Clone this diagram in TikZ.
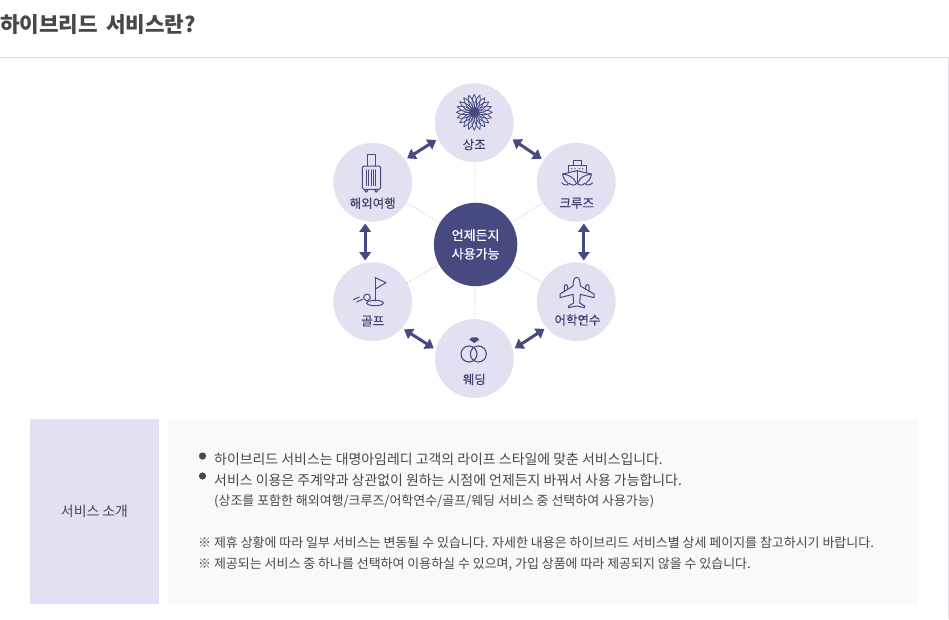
\documentclass[tikz,border=0pt]{standalone}
\usepackage{fontspec}
\usetikzlibrary{arrows.meta}
\pgfdeclarelayer{under}
\pgfsetlayers{under,main}
\setmainfont{Noto Sans CJK KR}
\newfontfamily\medfont[FakeBold=0.35]{Noto Sans CJK KR}
\definecolor{navy}{HTML}{464A80}
\definecolor{lav}{HTML}{E1E1F1}
\definecolor{panel}{HTML}{F9F9F9}
\definecolor{ink}{HTML}{484848}
\definecolor{rule}{HTML}{E0E0E4}
\tikzset{
 hub/.style={circle,fill=navy,draw=none,minimum size=83.4pt,inner sep=0pt,outer sep=0pt},
 sat/.style={circle,fill=lav,draw=none,minimum size=78.8pt,inner sep=0pt,outer sep=0pt},
 spoke/.style={draw=black!22,line width=.7pt,densely dotted},
 twoway/.style={draw=navy,line width=3pt,{Triangle[length=8.5pt,width=11.5pt]}-{Triangle[length=8.5pt,width=11.5pt]},shorten <=2.5pt,shorten >=2.5pt},
 icon/.style={draw=navy,line width=1pt,line join=round,line cap=round},
 lab/.style={font=\medfont\fontsize{12.5pt}{14pt}\selectfont,text=navy!90!black,inner sep=0pt},
 body/.style={text=ink,anchor=base west,inner sep=0pt},
 big/.style={font=\fontsize{13.93pt}{15pt}\selectfont},
 small/.style={font=\fontsize{12.96pt}{15pt}\selectfont},
 zoomed/.style={x=0.33333pt,y=-0.33333pt}
}
\begin{document}
\begin{tikzpicture}[x=1pt,y=-1pt]
\useasboundingbox (0,0) rectangle (949,619);
\begin{pgfonlayer}{under}
\fill[white] (0,0) rectangle (949,619);
\end{pgfonlayer}
% page frame
\coordinate (ruleL) at (0,57.5); \coordinate (ruleR) at (948,57.5); \coordinate (ruleB) at (948,619);
\draw[rule,line width=1pt] (ruleL) -- (ruleR) -- (ruleB);
\node[font=\bfseries\fontsize{21.3pt}{24pt}\selectfont,text=ink,anchor=base west,inner sep=0pt] (title) at (0,32.5) {하이브리드\hspace{3pt} 서비스란?};
% nodes
\node[sat] (top) at (474.3,122.7) {};
\node[sat] (tl) at (372.7,182.3) {};
\node[sat] (tr) at (576.3,182.3) {};
\node[sat] (ll) at (372.7,301.7) {};
\node[sat] (lr) at (576.3,301.7) {};
\node[sat] (bot) at (474.3,358.5) {};
\node[hub,align=center,text=white,font=\medfont\fontsize{13pt}{18.5pt}\selectfont] (hubn) at (475.6,244.5) {언제든지\\사용가능};
\begin{pgfonlayer}{under}
\foreach \n in {top,tl,tr,ll,lr,bot} {\draw[spoke] (hubn) -- (\n);}
\end{pgfonlayer}
\draw[twoway] (tl.35) -- (top.204);
\draw[twoway] (top.337) -- (tr.146);
\draw[twoway] (tl.259) -- (ll.101);
\draw[twoway] (tr.281) -- (lr.79);
\draw[twoway] (ll.318) -- (bot.167);
\draw[twoway] (bot.13) -- (lr.221);
% labels
\node[lab] (l1) at (474.3,144.6) {상조};
\node[lab] (l2) at (372.7,203.2) {해외여행};
\node[lab] (l3) at (576.8,203.2) {크루즈};
\node[lab] (l4) at (372.7,321) {골프};
\node[lab] (l5) at (577.5,320) {어학연수};
\node[lab] (l6) at (474.3,379.4) {웨딩};
% flower
\begin{scope}[shift={(474.3,112.3)}]
\foreach \a in {0,18,...,342} {\draw[icon,rotate=\a,line width=.8pt] (0,0) .. controls (6,-3.2) and (13,-3.2) .. (18,0) .. controls (13,3.2) and (6,3.2) .. (0,0);}
\fill[navy] (0,0) circle (4.5);
\end{scope}
% icons, in the 3x crop coordinates of the upper crop
\begin{scope}[shift={(320,70)},zoomed]
% suitcase
\draw[icon,rounded corners=1.5pt] (127,288) rectangle (182,358);
\draw[icon] (143,288) -- (143,254) -- (165,254) -- (165,288);
\foreach \x in {139,146,153,160,167} {\draw[icon,line width=.6pt] (\x,299) -- (\x,347);}
\draw[icon] (139,362) circle (4.5); \draw[icon] (169,362) circle (4.5);
% ship
\draw[icon] (760,285) -- (760,271) -- (783,271) -- (783,285);
\draw[icon] (745,308) -- (745,285) -- (798,285) -- (798,308);
\draw[icon] (728,312) -- (771,302) -- (814,312) .. controls (813,325) and (806,334) .. (798,340);
\draw[icon] (728,312) .. controls (729,325) and (736,334) .. (744,340);
\draw[icon] (771,302) -- (771,338);
\draw[icon] (728,312) .. controls (745,314) and (762,322) .. (768,338);
\draw[icon] (814,312) .. controls (797,314) and (780,322) .. (774,338);
\draw[icon] (725,338) .. controls (733,347) and (741,347) .. (748,340) .. controls (755,347) and (763,347) .. (771,340) .. controls (779,347) and (787,347) .. (794,340) .. controls (801,347) and (810,347) .. (818,338);
\foreach \x in {755,765,778,788} {\fill[navy] (\x,296) circle (2);}
\end{scope}
\begin{scope}[shift={(320,230)},zoomed]
% golf
\draw[icon] (166,143) -- (166,213);
\draw[icon] (166,143) -- (198,158) -- (166,177);
\draw[icon] (165,219) ellipse (25 and 8);
\draw[icon] (141,202) circle (10);
\draw[icon] (100,209) -- (118,201);
\draw[icon] (110,216) -- (127,208);
% plane
\draw[icon] (770,142) .. controls (762,142) and (759,155) .. (759,168) -- (720,192) -- (720,203) -- (759,193) -- (761,219) -- (746,228) -- (746,233) -- (770,228) -- (794,233) -- (794,228) -- (779,219) -- (781,193) -- (822,203) -- (822,192) -- (781,168) .. controls (781,155) and (778,142) .. (770,142) -- cycle;
\draw[icon] (733,184) -- (733,170) .. controls (733,162) and (743,162) .. (743,170) -- (743,178);
\draw[icon] (807,184) -- (807,170) .. controls (807,162) and (797,162) .. (797,170) -- (797,178);
% rings
\draw[icon,line width=1.1pt] (447,372) circle (24);
\draw[icon,line width=1.1pt] (475,372) circle (24);
\fill[navy] (455,322) -- (471,322) -- (478,329) -- (463,339) -- (448,329) -- cycle;
\end{scope}
% panels
\fill[lav] (30,419) rectangle (159,604);
\fill[panel] (168,419) rectangle (918,604);
\node[font=\fontsize{13.9pt}{15pt}\selectfont,text=ink,inner sep=0pt] (cap) at (94.5,511) {서비스 소개};
\fill[ink] (202.5,456) circle (3.6);
\fill[ink] (202.5,476) circle (3.6);
\node[body,big] (b1) at (214,464) {하이브리드 서비스는 대명아임레디 고객의 라이프 스타일에 맞춘 서비스입니다.};
\node[body,big] (b2) at (214,485) {서비스 이용은 주계약과 상관없이 원하는 시점에 언제든지 바꿔서 사용 가능합니다.};
\node[body,small] (b3) at (214,505.5) {(상조를 포함한 해외여행/크루즈/어학연수/골프/웨딩 서비스 중 선택하여 사용가능)};
\node[body,small] (b4) at (198,547) {※ 제휴 상황에 따라 일부 서비스는 변동될 수 있습니다. 자세한 내용은 하이브리드 서비스별 상세 페이지를 참고하시기 바랍니다.};
\node[body,small] (b5) at (198,568) {※ 제공되는 서비스 중 하나를 선택하여 이용하실 수 있으며, 가입 상품에 따라 제공되지 않을 수 있습니다.};
\end{tikzpicture}
\end{document}
